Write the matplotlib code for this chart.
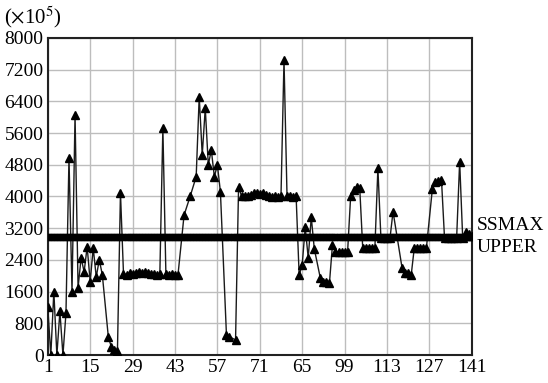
import numpy as np
import matplotlib.pyplot as plt

plt.rcParams['font.family'] = 'Liberation Serif'
plt.rcParams['mathtext.fontset'] = 'stix'

# SSMAX series (x index, value in 1e5)
ss_x = [1, 2, 3, 4, 5, 6, 7, 8, 9, 10, 11, 12, 13, 14, 15, 16, 17, 18, 19,
        21, 22, 23, 24, 25,
        26, 27, 28, 29, 30, 31, 32, 33, 34, 35, 36, 37, 38, 39, 40, 41, 42, 43, 44,
        46, 48, 50, 51, 52, 53, 54, 55, 56, 57, 58, 60, 61, 63, 64,
        65, 66, 67, 68, 69, 70, 71, 72, 73, 74, 75, 76, 77, 78, 79, 80, 81, 82, 83,
        84, 85, 86, 87, 88, 89, 91, 92, 93, 94, 95, 96, 97, 98, 99, 100,
        101, 102, 103, 104, 105, 106, 107, 108, 109, 110, 111, 112, 113, 114, 115,
        118, 119, 120, 121, 122, 123, 124, 125, 126, 128, 129, 130, 131,
        132, 133, 134, 135, 136, 137, 138, 139, 140, 141]
ss_y = [1200, 0, 1600, 0, 1100, 0, 1050, 4970, 1600, 6060, 1700, 2450, 2100, 2730, 1850, 2700, 1970, 2400, 2030,
        450, 200, 120, 100, 4090,
        2050, 2030, 2060, 2040, 2080, 2100, 2060, 2090, 2070, 2050, 2040, 2030, 2040, 5730, 2040, 2020, 2050, 2020, 2030,
        3530, 4000, 4500, 6520, 5050, 6230, 4800, 5170, 4500, 4800, 4120, 500, 460, 380, 4250,
        4000, 4020, 4000, 4050, 4080, 4100, 4060, 4100, 4040, 4000, 3980, 4000, 3990, 4000, 7450, 4000, 4010, 3990, 4000,
        2020, 2270, 3220, 2450, 3480, 2680, 1940, 1850, 1850, 1810, 2780, 2610, 2610, 2610, 2610, 2610,
        4000, 4160, 4250, 4220, 2690, 2690, 2690, 2690, 2690, 4710, 2950, 2950, 2950, 2950, 3620,
        2190, 2080, 2060, 2020, 2690, 2690, 2690, 2690, 2690, 4200, 4370, 4400, 4420,
        2950, 2950, 2950, 2950, 2950, 4880, 2950, 3100, 3050, 3000]

# UPPER limit (constant)
up_x = list(range(1, 142))
up_y = [2980] * len(up_x)

xticks = [1, 15, 29, 43, 57, 71, 85, 99, 113, 127, 141]
xticklabels = ['1', '15', '29', '43', '57', '71', '65', '99', '113', '127', '141']
yticks = list(range(0, 8001, 800))

fig = plt.figure(figsize=(5.48, 3.83), dpi=100)
ax = fig.add_axes([0.0872, 0.0731, 0.7737, 0.8277])

ax.plot(ss_x, ss_y, color='#1a1a1a', linewidth=1.0, marker='^', markersize=6,
        markerfacecolor='black', markeredgecolor='black', zorder=3)
ax.plot(up_x, up_y, color='black', linewidth=3, marker='s', markersize=4,
        markerfacecolor='black', markeredgecolor='black', zorder=4)

ax.set_xlim(1, 141)
ax.set_ylim(0, 8000)
ax.set_xticks(xticks)
ax.set_xticklabels(xticklabels)
ax.set_yticks(yticks)
ax.tick_params(axis='both', length=0, labelsize=14, pad=3)
ax.grid(True, color='#bdbdbd', linewidth=1.0)
ax.set_axisbelow(True)
for s in ax.spines.values():
    s.set_linewidth(1.5)
    s.set_color('#222222')

ax.text(1.012, 2980 + 300, 'SSMAX', transform=ax.get_yaxis_transform(),
        fontsize=14, va='center', ha='left')
ax.text(1.012, 2980 - 260, 'UPPER', transform=ax.get_yaxis_transform(),
        fontsize=14, va='center', ha='left')
fig.text(0.008, 0.988, r'($\times$10$^5$)', fontsize=15, va='top', ha='left')

fig.savefig('out.png', dpi=100)
